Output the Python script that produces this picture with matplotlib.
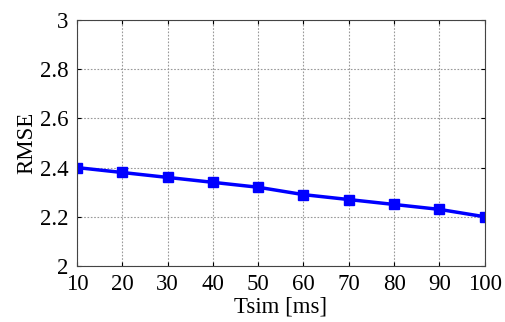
from matplotlib import pyplot as plt
import numpy as np

tsim = [10, 20, 30, 40, 50, 60, 70, 80, 90, 100]
rmse = [2.40, 2.38, 2.36, 2.34, 2.32, 2.29, 2.27, 2.25, 2.23, 2.20]

plt.rcParams['font.family'] = ['Liberation Serif', 'DejaVu Serif']
figure, axes = plt.subplots(figsize=(5.06, 3.22), dpi=100)
figure.subplots_adjust(left=0.152, right=0.958, top=0.938, bottom=0.174)

axes.plot(tsim, rmse, '-s', color='#0000ff', linewidth=2.5, markersize=7)
axes.set_xlim(10, 100)
axes.set_ylim(2, 3)
axes.set_xticks(np.arange(10, 101, 10))
axes.set_yticks([2, 2.2, 2.4, 2.6, 2.8, 3])
axes.set_yticklabels(['2', '2.2', '2.4', '2.6', '2.8', '3'])
axes.grid(which='major', linestyle=(0, (1.5, 1.5)), linewidth=0.8, color='#999999')
axes.tick_params(direction='in', top=True, right=True, labelsize=16.5, length=3)
axes.tick_params(axis='x', pad=6)
axes.tick_params(axis='y', pad=6)
for s in axes.spines.values():
    s.set_linewidth(0.8)
    s.set_color('#444444')
axes.set_xlabel('Tsim [ms]', fontsize=16.5, labelpad=1)
axes.set_ylabel('RMSE', fontsize=16.5, labelpad=2)

figure.savefig('out.png')
